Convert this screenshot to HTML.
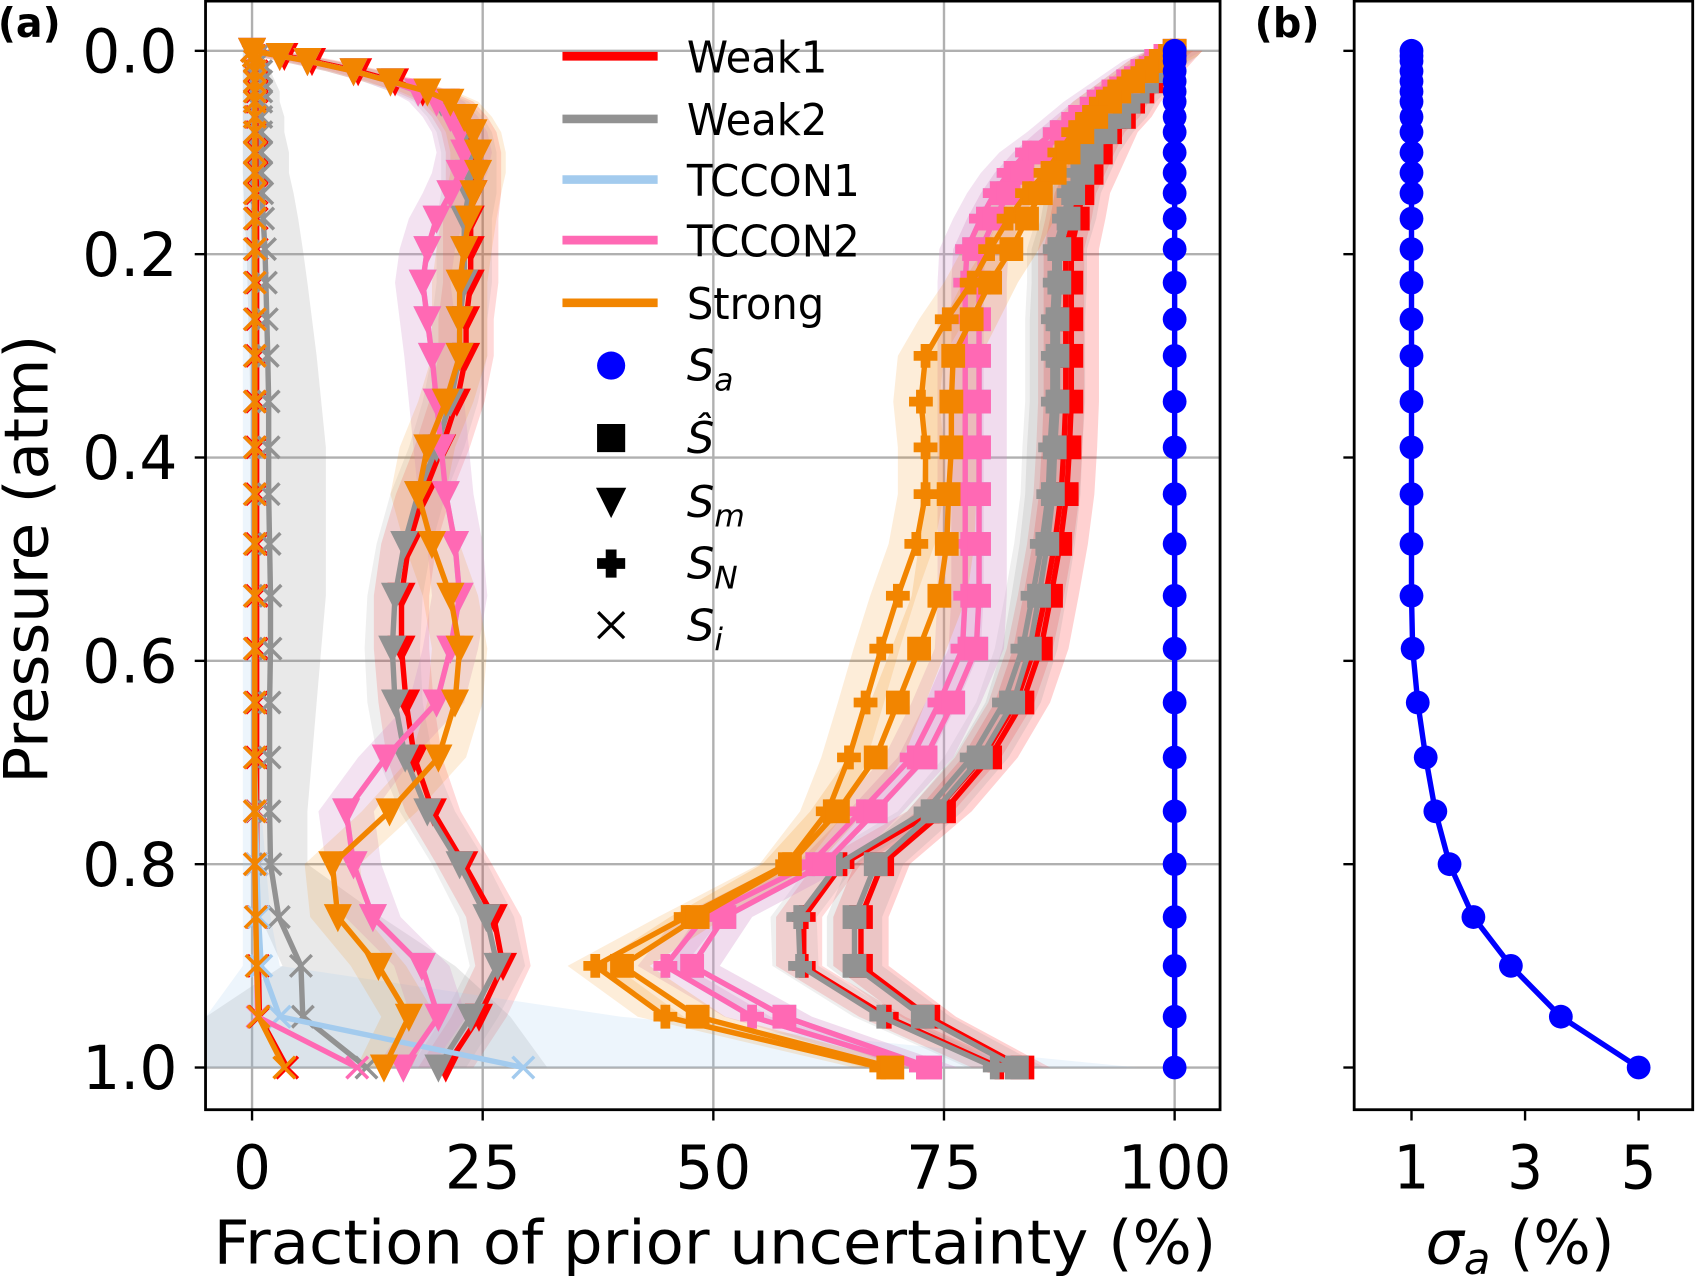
<!DOCTYPE html>
<html><head><meta charset="utf-8"><style>
html,body{margin:0;padding:0;background:#fff;}
svg{display:block;font-family:"DejaVu Sans","Liberation Sans",sans-serif;}
</style></head><body>
<svg id="chart" width="1696" height="1278" viewBox="0 0 1568 1181.6" xmlns="http://www.w3.org/2000/svg"></svg>
<script>
const levels=[0,0.005,0.01,0.02,0.03,0.04,0.05,0.065,0.08,0.1,0.12,0.14,0.165,0.195,0.228,0.264,0.3,0.345,0.39,0.436,0.485,0.536,0.588,0.641,0.695,0.748,0.8,0.852,0.9,0.95,1.0];
const sigmaA=[1,1,1,1,1,1,1,1,1,1,1,1,1,1,1,1,1,1,1,1,1,1,1.02,1.11,1.25,1.42,1.67,2.09,2.75,3.63,5.0];
const saValues=[100,100,100,100,100,100,100,100,100,100,100,100,100,100,100,100,100,100,100,100,100,100,100,100,100,100,100,100,100,100,100];
const weak1H=[100,99.5,99,98,97.5,96.5,95.5,94.5,93,92,91,90,89.5,88.8,88.8,88.8,88.8,88.8,88.6,88.3,87.6,86.6,85.5,83.5,80,75,68.3,66,66,73.3,83.5];
const weak1N=[100,99.4,98.8,97.8,97.2,96.2,95.2,94.2,92.6,91.5,90.5,89.5,89,88.2,88.2,88.2,88.2,88.2,88,87.7,87,86,84.8,82.8,79.2,74,64,59.8,59.8,68.8,81];
const weak1M=[0,3.5,6.5,11.5,15.5,18.5,21,22.5,23.5,24,24,24,23.7,23.7,23.7,23.2,23.2,22.2,20.6,18.6,17,16.2,16.2,16.7,17.6,19.6,23,26.2,27.2,24.6,21];
const weak1I=[0,0.3,0.4,0.5,0.5,0.5,0.5,0.5,0.5,0.5,0.5,0.5,0.5,0.5,0.5,0.5,0.5,0.5,0.5,0.5,0.5,0.5,0.5,0.5,0.5,0.5,0.5,0.6,0.7,0.8,3.8];
const weak2H=[100,99.5,98.8,97.5,97,96,95,94,92.5,91,90,89,88.5,87.5,87.5,87.3,87.3,87.3,87,86.8,86.2,85.3,84.3,82.5,79,74,67.6,65.3,65.3,72.7,82.9];
const weak2N=[100,99.3,98.5,97.2,96.6,95.6,94.6,93.6,92,90.5,89.5,88.5,88,87,87,86.8,86.8,86.8,86.5,86.3,85.6,84.6,83.5,81.5,78,73,63.5,59.2,59.4,68.2,80.5];
const weak2M=[0,3,6,11,15,18,20.5,22,23,23.5,23.5,23.5,23,23,23,22.5,22.5,21.5,20,18,16.5,15.5,15.2,15.5,16.6,19,22.5,25.4,26.6,23.7,20.2];
const weak2I=[0,0.5,0.8,1,1,1,1,1,1,1,1,1.1,1.2,1.4,1.5,1.6,1.7,1.8,1.8,1.8,1.9,2,2,1.9,1.9,1.9,2,2.9,5.3,5.5,12.4];
const weak2IUpper=[0.5,1,1.5,2,2.5,3,3,3.5,3.5,4,4,4.5,5,5.5,6,6.5,7,7.5,8,8,8,8,7.5,7,6.5,6,6,14,22,28,32];
const tccon1I=[0,0.2,0.3,0.3,0.3,0.3,0.3,0.3,0.3,0.3,0.3,0.3,0.3,0.3,0.3,0.3,0.3,0.3,0.3,0.3,0.3,0.3,0.3,0.3,0.3,0.4,0.5,0.7,1,3,29.4];
const tccon1IUpper=[0.5,0.5,0.5,0.5,0.5,0.5,0.5,0.5,0.5,0.5,0.5,0.5,0.5,0.5,0.5,0.5,0.5,0.5,0.5,0.5,0.5,0.5,0.5,0.5,0.5,1,1.5,2,3,40,96];
const tccon2H=[100,99,98,96.5,95,93.5,92,90,88,85.5,83.5,82,80.5,79,78.8,78.8,78.8,78.8,78.8,78.8,78.8,78.8,78.5,76,73,67.6,62,51.2,47.7,57.7,73.5];
const tccon2N=[100,98.6,97.4,95.8,94.2,92.6,91,89,87,84,82,80.5,79,77.5,77.3,77.3,77.3,77.3,77.3,77.3,77.3,77.3,77,74.5,71.5,66,60.5,49,44.8,54.2,72.5];
const tccon2M=[0,3,6,11,15,18,20,21.5,22.5,23,22.5,21.5,20,19,18.5,19,19.5,20,20.5,21,22,22.5,21.5,20,14.5,10.2,11,13.1,18.4,20.2,16.4];
const tccon2I=[0,0.2,0.3,0.3,0.3,0.3,0.3,0.3,0.3,0.3,0.3,0.3,0.3,0.3,0.3,0.3,0.3,0.3,0.3,0.3,0.3,0.3,0.3,0.3,0.3,0.3,0.3,0.4,0.5,0.6,11.4];
const strongH=[100,99.5,98.5,97,95.5,94,93,91.5,90,88.5,87,85.5,84,82.3,80,78,76,75.8,75.8,75.5,75.3,74.5,72.3,70,67.6,63.5,58.3,48.3,40.1,48.3,69.4];
const strongN=[100,99,98,96.5,95,93.5,92,90.5,89,87.5,86,84,82,80,78,75.3,73,72.5,73,73,72,70,68.2,66.5,64.7,62.4,58,47,37.2,44.8,68.2];
const strongM=[0,3,6,11,15,19,21.5,23,24,24.5,24.5,24,23.5,23,22.5,22.5,22.5,21,19,18,19.5,21.5,22.5,22,20.2,14.9,8.7,9.3,13.7,17,14.3];
const strongI=[0,0.2,0.3,0.3,0.3,0.3,0.3,0.3,0.3,0.3,0.3,0.3,0.3,0.3,0.3,0.3,0.3,0.3,0.3,0.3,0.3,0.3,0.3,0.3,0.3,0.3,0.3,0.4,0.5,0.7,3.5];
const xTicksA=[0,25,50,75,100];
const yTicks=[0,0.2,0.4,0.6,0.8,1.0];
const yTickLabels=["0.0","0.2","0.4","0.6","0.8","1.0"];
const xTicksB=[1,3,5];

const NS="http://www.w3.org/2000/svg";
const svg=document.getElementById('chart');
function el(tag,attrs,parent){const e=document.createElementNS(NS,tag);for(const k in attrs)e.setAttribute(k,attrs[k]);(parent||svg).appendChild(e);return e;}
const xA=v=>233+v*8.53;
const yP=p=>47+p*940;
const xB=s=>1305+(s-1)*52.5;
const A={l:190,r:1128,t:1,b:1026};
const B={l:1252,r:1565,t:1,b:1026};

const defs=el('defs',{});
const cp=el('clipPath',{id:'clipA'},defs);
el('rect',{x:A.l,y:A.t,width:A.r-A.l,height:A.b-A.t},cp);
const cpb=el('clipPath',{id:'clipB'},defs);
el('rect',{x:B.l,y:B.t,width:B.r-B.l,height:B.b-B.t},cpb);

const gridG=el('g',{'clip-path':'url(#clipA)'});


xTicksA.forEach(v=>el('line',{x1:xA(v),x2:xA(v),y1:A.t,y2:A.b,stroke:'#b0b0b0','stroke-width':2.2},gridG));
yTicks.forEach(p=>el('line',{x1:A.l,x2:A.r,y1:yP(p),y2:yP(p),stroke:'#b0b0b0','stroke-width':2.2},gridG));

const plotA=el('g',{'clip-path':'url(#clipA)'});



const series=[
 {name:'weak1',color:'#ff0000',H:weak1H,N:weak1N,M:weak1M,I:weak1I},
 {name:'weak2',color:'#929292',H:weak2H,N:weak2N,M:weak2M,I:weak2I,IU:weak2IUpper},
 {name:'tccon1',color:'#a3cbee',H:tccon2H,N:tccon2N,M:tccon2M,I:tccon1I,IU:tccon1IUpper},
 {name:'tccon2',color:'#ff69b4',H:tccon2H,N:tccon2N,M:tccon2M,I:tccon2I},
 {name:'strong',color:'#f28500',H:strongH,N:strongN,M:strongM,I:strongI}
];
function band(vals,lo,hi,color,op,name){
  let d='';
  levels.forEach((p,i)=>{d+=(i?'L':'M')+xA(lo(vals[i],i))+','+yP(p);});
  for(let i=levels.length-1;i>=0;i--)d+='L'+xA(hi(vals[i],i))+','+yP(levels[i]);
  const b=el('path',{d:d+'Z',fill:color,'fill-opacity':op,stroke:'none'},plotA);
  
  
}
series.forEach(s=>{
  band(s.H,v=>v-3,v=>v+3,s.color,0.18,s.name+'-shat-band');
  band(s.N,v=>v-3,v=>v+2,s.color,0.15,s.name+'-sn-band');
  band(s.M,v=>Math.max(0,v-3),v=>v+3,s.color,0.15,s.name+'-sm-band');
  if(s.IU) band(s.I,(v,i)=>i>=29?-5:Math.max(-1,v-2),(v,i)=>s.IU[i],s.color,0.2,s.name+'-si-band');
});
function marker(type,x,y,color,parent){
  let m;
  if(type==='sq'){m=el('rect',{x:x-11,y:y-11,width:22,height:22,fill:color},parent);}
  else if(type==='tri'){m=el('path',{d:`M${x-13},${y-12}L${x+13},${y-12}L${x},${y+14}Z`,fill:color},parent);}
  else if(type==='plus'){m=el('path',{d:`M${x-4.5},${y-11}h9v6.5h6.5v9h-6.5v6.5h-9v-6.5h-6.5v-9h6.5Z`,fill:color},parent);}
  else if(type==='x'){m=el('path',{d:`M${x-10},${y-10}L${x+10},${y+10}M${x-10},${y+10}L${x+10},${y-10}`,stroke:color,'stroke-width':3.2,fill:'none'},parent);}
  else if(type==='circ'){m=el('circle',{cx:x,cy:y,r:11,fill:color},parent);}
  return m;
}
function line(vals,color,type,name,xf,parent){
  const g=el('g',{},parent);
  
  
  const pts=levels.map((p,i)=>xf(vals[i])+','+yP(p)).join(' ');
  el('polyline',{points:pts,fill:'none',stroke:color,'stroke-width':5,'stroke-linejoin':'round'},g);
  levels.forEach((p,i)=>marker(type,xf(vals[i]),yP(p),color,g));
}
series.forEach(s=>{
  line(s.I,s.color,'x',s.name+'-si-line',xA,plotA);
  line(s.M,s.color,'tri',s.name+'-sm-line',xA,plotA);
  line(s.N,s.color,'plus',s.name+'-sn-line',xA,plotA);
  line(s.H,s.color,'sq',s.name+'-shat-line',xA,plotA);
});
line(saValues,'#0000ff','circ','sa-line',xA,plotA);

const plotB=el('g',{'clip-path':'url(#clipB)'});


line(sigmaA,'#0000ff','circ','sigma-a-line',xB,plotB);

const spA=el('rect',{x:A.l,y:A.t,width:A.r-A.l,height:A.b-A.t,fill:'none',stroke:'#000','stroke-width':2.6});


const spB=el('rect',{x:B.l,y:B.t,width:B.r-B.l,height:B.b-B.t,fill:'none',stroke:'#000','stroke-width':2.6});



yTicks.forEach((p,i)=>{
  el('line',{x1:A.l-10,x2:A.l,y1:yP(p),y2:yP(p),stroke:'#000','stroke-width':2.2});
  el('line',{x1:B.l-10,x2:B.l,y1:yP(p),y2:yP(p),stroke:'#000','stroke-width':2.2});
  const t=el('text',{x:164,y:yP(p)+20,'text-anchor':'end','font-size':56,textLength:88,lengthAdjust:'spacingAndGlyphs'});
  t.textContent=yTickLabels[i];
  
  
});
xTicksA.forEach(v=>{
  el('line',{x1:xA(v),x2:xA(v),y1:A.b,y2:A.b+10,stroke:'#000','stroke-width':2.2});
  const t=el('text',{x:xA(v),y:1099,'text-anchor':'middle','font-size':56,textLength:String(v).length*35,lengthAdjust:'spacingAndGlyphs'});
  t.textContent=String(v);
  
  
});
xTicksB.forEach(v=>{
  el('line',{x1:xB(v),x2:xB(v),y1:B.b,y2:B.b+10,stroke:'#000','stroke-width':2.2});
  const t=el('text',{x:xB(v),y:1099,'text-anchor':'middle','font-size':56,textLength:33,lengthAdjust:'spacingAndGlyphs'});
  t.textContent=String(v);
  
  
});
</script>
<script>
(function(){
const NS="http://www.w3.org/2000/svg";
const svg=document.getElementById('chart');
function txt(x,y,s,size,name,extra){const t=document.createElementNS(NS,'text');t.setAttribute('x',x);t.setAttribute('y',y);t.setAttribute('font-size',size);for(const k in (extra||{}))t.setAttribute(k,extra[k]);t.innerHTML=s;


svg.appendChild(t);return t;}
txt(661,1168,'Fraction of prior uncertainty (%)',56,'x-axis-title-a',{'text-anchor':'middle',textLength:927,lengthAdjust:'spacingAndGlyphs'});
txt(1318,1168,'<tspan font-style="italic">σ</tspan><tspan font-style="italic" font-size="40" dy="10">a</tspan><tspan dy="-10"> (%)</tspan>',56,'x-axis-title-b',{});
txt(44,517,'Pressure (atm)',56,'y-axis-title',{'text-anchor':'middle',transform:'rotate(-90 44 517)',textLength:415,lengthAdjust:'spacingAndGlyphs'});
txt(-2,34,'(a)',38,'panel-label-a',{'font-weight':'bold',textLength:58,lengthAdjust:'spacingAndGlyphs'});
txt(1160,34,'(b)',38,'panel-label-b',{'font-weight':'bold',textLength:60,lengthAdjust:'spacingAndGlyphs'});
const leg=[['Weak1','#ff0000',52,130],['Weak2','#929292',110,130],['TCCON1','#a3cbee',166,160],['TCCON2','#ff69b4',222,160],['Strong','#f28500',280,127]];
leg.forEach(l=>{
  const ln=document.createElementNS(NS,'line');
  ln.setAttribute('x1',520);ln.setAttribute('x2',608);ln.setAttribute('y1',l[2]);ln.setAttribute('y2',l[2]);
  ln.setAttribute('stroke',l[1]);ln.setAttribute('stroke-width',8);
  
  
  svg.appendChild(ln);
  txt(635,l[2]+15,l[0],40,'legend-label-'+l[0].toLowerCase(),{textLength:l[3],lengthAdjust:'spacingAndGlyphs'});
});
const mk=[['<tspan font-style="italic">S</tspan><tspan font-style="italic" font-size="29" dy="9">a</tspan>',338,'circ'],
['<tspan font-style="italic">Ŝ</tspan>',405,'sq'],
['<tspan font-style="italic">S</tspan><tspan font-style="italic" font-size="29" dy="9">m</tspan>',464,'tri'],
['<tspan font-style="italic">S</tspan><tspan font-style="italic" font-size="29" dy="9">N</tspan>',521,'plus'],
['<tspan font-style="italic">S</tspan><tspan font-style="italic" font-size="29" dy="9">i</tspan>',578,'x']];
mk.forEach((m,i)=>{
  const x=565,y=m[1];let e;
  if(m[2]==='circ'){e=document.createElementNS(NS,'circle');e.setAttribute('cx',x);e.setAttribute('cy',y);e.setAttribute('r',13);e.setAttribute('fill','#0000ff');}
  else{e=document.createElementNS(NS,'path');
    if(m[2]==='sq')e.setAttribute('d',`M${x-13},${y-13}h26v26h-26Z`);
    if(m[2]==='tri')e.setAttribute('d',`M${x-14},${y-13}L${x+14},${y-13}L${x},${y+15}Z`);
    if(m[2]==='plus')e.setAttribute('d',`M${x-5},${y-13}h10v8h8v10h-8v8h-10v-8h-8v-10h8Z`);
    if(m[2]==='x'){e.setAttribute('d',`M${x-12},${y-12}L${x+12},${y+12}M${x-12},${y+12}L${x+12},${y-12}`);e.setAttribute('stroke','#000');e.setAttribute('stroke-width',3);}
    else e.setAttribute('fill','#000');
  }
  
  
  svg.appendChild(e);
  txt(635,y+14,m[0],40,'legend-marker-label-'+i);
});
})();
</script>
</body></html>
